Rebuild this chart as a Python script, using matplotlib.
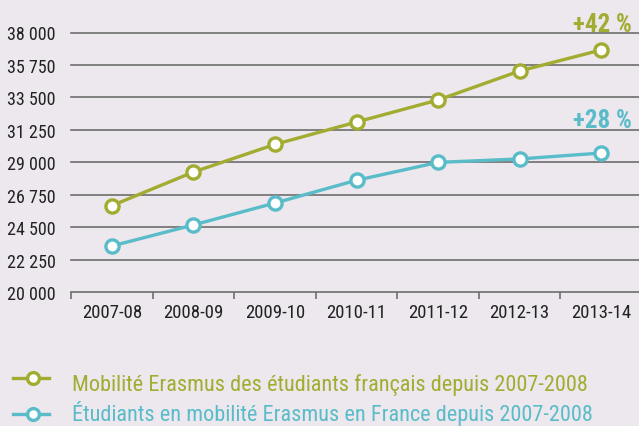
import matplotlib
matplotlib.use("Agg")
import matplotlib.pyplot as plt
from matplotlib.lines import Line2D
import numpy as np

categories = ["2007-08", "2008-09", "2009-10", "2010-11", "2011-12", "2012-13", "2013-14"]
french_out = [25990, 28320, 30240, 31790, 33320, 35330, 36790]
incoming = [23190, 24650, 26170, 27750, 28990, 29230, 29640]
yticks = [20000, 22250, 24500, 26750, 29000, 31250, 33500, 35750, 38000]
ytick_labels = ["20 000", "22 250", "24 500", "26 750", "29 000", "31 250", "33 500", "35 750", "38 000"]
label_out = "Mobilité Erasmus des étudiants français depuis 2007-2008"
label_in = "Étudiants en mobilité Erasmus en France depuis 2007-2008"
pct_out = "+42 %"
pct_in = "+28 %"

BG = "#ECE8EE"
GREEN = "#A2AC30"
BLUE = "#5ABCC8"
GRID = "#6E6E6E"
FONT = ["Roboto Condensed", "DejaVu Sans"]

plt.rcParams["font.family"] = FONT

fig = plt.figure(figsize=(6.39, 4.27), dpi=100, facecolor=BG)
W, H = 639, 427
left, right = 71, 642
top, bottom = 33.5, 293
ax = fig.add_axes([left / W, 1 - bottom / H, (right - left) / W, (bottom - top) / H])
ax.set_facecolor(BG)
ax.set_ylim(20000, 38000)
ax.set_xlim(-0.5, 6.5)

x = np.arange(len(categories))
for yv in yticks:
    ax.axhline(yv, color=GRID, lw=1.2, zorder=1, clip_on=False)

for vals, col in [(french_out, GREEN), (incoming, BLUE)]:
    ax.plot(x, vals, color=col, lw=2.4, marker="o", ms=9.5, mfc="white",
            mec=col, mew=2.4, zorder=3, clip_on=False)

for s in ax.spines.values():
    s.set_visible(False)

ax.set_yticks(yticks)
ax.set_yticklabels(ytick_labels, fontsize=13, color="#222222")
ax.tick_params(axis="y", length=0, pad=11)

ax.set_xticks(x)
ax.set_xticklabels(categories, fontsize=13.5, color="#222222")
ax.tick_params(axis="x", length=0, pad=8)
ax.set_xticks(np.arange(-0.5, 6.5, 1.0), minor=True)
ax.tick_params(axis="x", which="minor", length=5, width=1.2, color=GRID, direction="out")

ax.text(6.377, 38124, pct_out, color=GREEN, fontsize=18, fontweight="bold",
        ha="right", va="baseline", clip_on=False)
ax.text(6.377, 31424, pct_in, color=BLUE, fontsize=18, fontweight="bold",
        ha="right", va="baseline", clip_on=False)

# legend
for yy, ty, col, lab in [(379, 391, GREEN, label_out), (415, 421.5, BLUE, label_in)]:
    fy = 1 - yy / H
    fig.add_artist(Line2D([13 / W, 49 / W], [fy, fy], color=col, lw=2.4))
    fig.add_artist(Line2D([33 / W], [fy], marker="o", ms=8.5, mfc="white", mec=col, mew=2.4))
    fig.text(72 / W, 1 - ty / H, lab, color=col, fontsize=16, ha="left", va="baseline")

fig.savefig("out.png", dpi=100, facecolor=BG)
